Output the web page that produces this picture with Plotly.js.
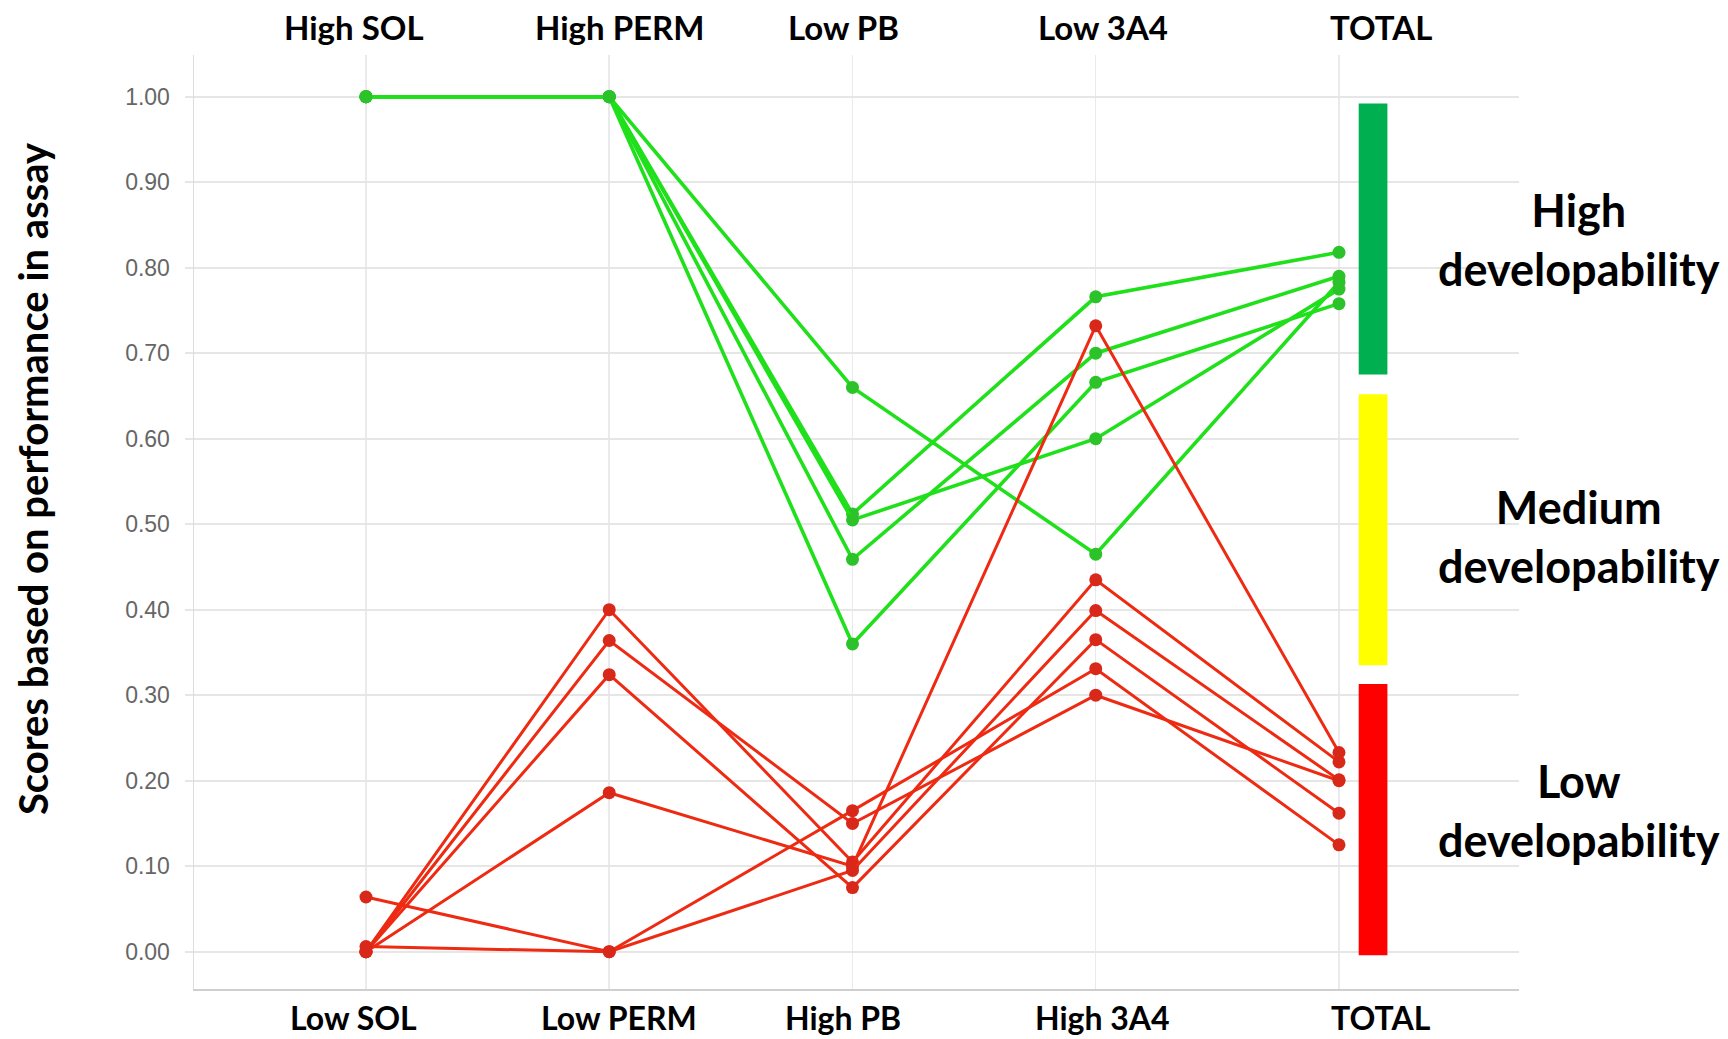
<!DOCTYPE html>
<html>
<head>
<meta charset="utf-8">
<script src="https://cdn.plot.ly/plotly-3.0.1.min.js"></script>
<style>
  html, body { margin: 0; padding: 0; background: #ffffff; }
  #chart { width: 1728px; height: 1039px; }
</style>
</head>
<body>
<div id="chart"></div>
<script>
// ---------- data ----------
const topLabels    = ["High SOL", "High PERM", "Low PB", "Low 3A4", "TOTAL"];
const bottomLabels = ["Low SOL", "Low PERM", "High PB", "High 3A4", "TOTAL"];
const yTickVals    = [0, 0.1, 0.2, 0.3, 0.4, 0.5, 0.6, 0.7, 0.8, 0.9, 1.0];
const yTickText    = ["0.00","0.10","0.20","0.30","0.40","0.50","0.60","0.70","0.80","0.90","1.00"];

// high developability compounds (green)
const greenA = [1.00, 1.00, 0.660, 0.465, 0.783];
const greenB = [1.00, 1.00, 0.512, 0.766, 0.818];
const greenC = [1.00, 1.00, 0.505, 0.600, 0.775];
const greenD = [1.00, 1.00, 0.459, 0.700, 0.790];
const greenE = [1.00, 1.00, 0.360, 0.666, 0.758];

// low developability compounds (red)
const redA = [0.000, 0.400, 0.105, 0.435, 0.222];
const redB = [0.000, 0.364, 0.150, 0.300, 0.200];
const redC = [0.000, 0.324, 0.075, 0.365, 0.162];
const redD = [0.000, 0.186, 0.100, 0.732, 0.233];
const redE = [0.064, 0.000, 0.165, 0.331, 0.125];
const redF = [0.006, 0.000, 0.095, 0.399, 0.201];

// developability bands
const bandLabels = ["High<br>developability", "Medium<br>developability", "Low<br>developability"];
const bandLow    = [0.675, 0.335, -0.004];
const bandHigh   = [0.992, 0.652, 0.313];
const bandColors = ["#00b050", "#ffff00", "#ff0000"];

// ---------- build ----------
const cats = topLabels.map((_, i) => i);
const greens = [greenA, greenB, greenC, greenD, greenE];
const reds = [redA, redB, redC, redD, redE, redF];

const traces = [];
greens.forEach(s => traces.push({
  type: "scatter", mode: "lines+markers", x: cats, y: s,
  line: { color: "#1fe01a", width: 3.6 },
  marker: { color: "#2cc22a", size: 13 },
  hoverinfo: "skip", showlegend: false
}));
reds.forEach(s => traces.push({
  type: "scatter", mode: "lines+markers", x: cats, y: s,
  line: { color: "#ee2a12", width: 3 },
  marker: { color: "#d8281a", size: 13 },
  hoverinfo: "skip", showlegend: false
}));

const labelShift = [-12, 10, -9, 7, 42];
const bandLabelShift = [0, -7, 9];
const boldFont = "Lato, 'Open Sans', sans-serif";
const annotations = [];
topLabels.forEach((t, i) => annotations.push({
  text: "<b>" + t + "</b>", x: i, xref: "x", y: 1.03, yref: "paper",
  xshift: labelShift[i], showarrow: false, yanchor: "middle",
  font: { family: boldFont, size: 33, color: "#000" }
}));
bottomLabels.forEach((t, i) => annotations.push({
  text: "<b>" + t + "</b>", x: i, xref: "x", y: -0.031, yref: "paper",
  xshift: labelShift[i], showarrow: false, yanchor: "middle",
  font: { family: boldFont, size: 32, color: "#000" }
}));
bandLabels.forEach((t, i) => annotations.push({
  text: "<b>" + t + "</b>", x: 1.045, xref: "paper",
  y: (bandLow[i] + bandHigh[i]) / 2, yref: "y", yshift: bandLabelShift[i],
  showarrow: false, xanchor: "center", yanchor: "middle",
  font: { family: boldFont, size: 45, color: "#000" }
}));
annotations.push({
  text: "<b>Scores based on performance in assay</b>",
  x: -0.1215, xref: "paper", y: 0.546, yref: "paper", textangle: -90,
  showarrow: false, xanchor: "center", yanchor: "middle",
  font: { family: boldFont, size: 40, color: "#000" }
});

const shapes = bandLabels.map((_, i) => ({
  type: "rect", xref: "x", yref: "y",
  x0: 4.081, x1: 4.199, y0: bandLow[i], y1: bandHigh[i],
  fillcolor: bandColors[i], line: { width: 0 }, layer: "above"
}));

const layout = {
  width: 1728, height: 1039,
  margin: { l: 194, r: 209, t: 55, b: 50, pad: 0 },
  paper_bgcolor: "#ffffff", plot_bgcolor: "#ffffff",
  showlegend: false,
  xaxis: {
    range: [-0.707, 4.74], tickvals: cats, showticklabels: false,
    showgrid: true, gridcolor: "#e9e9ee", gridwidth: 1.5,
    zeroline: false, showline: true, linecolor: "#cfcfcf", linewidth: 2,
    ticks: "", fixedrange: true
  },
  yaxis: {
    range: [-0.0436, 1.0488], tickvals: yTickVals, ticktext: yTickText,
    showgrid: true, gridcolor: "#e6e6e6", gridwidth: 2,
    zeroline: false, showline: true, linecolor: "#dcdcdc", linewidth: 1.5,
    ticks: "outside", ticklen: 8, tickcolor: "#e6e6e6", tickwidth: 2,
    ticklabelstandoff: 10,
    tickfont: { family: "'Liberation Sans Narrow', 'Liberation Sans', Arial, sans-serif", size: 23, color: "#666666" },
    fixedrange: true
  },
  annotations: annotations,
  shapes: shapes
};

Plotly.newPlot("chart", traces, layout, { displayModeBar: false, staticPlot: true });
</script>
</body>
</html>
